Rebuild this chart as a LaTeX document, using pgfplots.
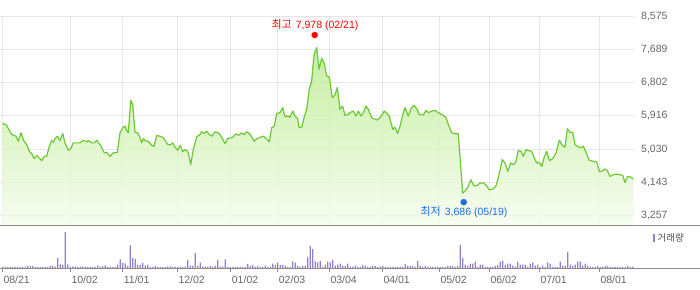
\documentclass[border=0pt]{standalone}
\usepackage{pgfplots}
\pgfplotsset{compat=1.18}
\usepackage{pgfplotstable}
\usepackage{fontspec}
\setmainfont{Liberation Sans}
\newfontfamily\kr{Noto Sans CJK KR}
\definecolor{linegreen}{HTML}{6CC935}
\definecolor{filltop}{HTML}{BDEC93}
\definecolor{fillbot}{HTML}{F5FCEE}
\definecolor{gridc}{HTML}{E6E6E6}
\definecolor{axisc}{HTML}{8C8C8C}
\definecolor{labc}{HTML}{666666}
\definecolor{volc}{HTML}{9580C8}
\definecolor{hired}{HTML}{FF0000}
\definecolor{loblue}{HTML}{1E6FD9}

\pgfplotstableread{
x y
2.3 5707
6.0 5688
11.7 5419
16.0 5374
18.3 5239
21.0 5465
24.0 5239
26.7 5151
29.3 4971
31.7 4909
34.0 4775
36.7 4863
39.3 4793
41.7 4721
44.3 4836
46.7 4836
49.3 5105
51.7 5266
53.3 5212
55.0 5304
57.3 5374
60.0 5258
62.7 5446
65.0 5196
68.3 4998
70.7 5043
73.3 5196
80.0 5196
83.3 5266
86.7 5223
88.3 5258
91.7 5196
94.3 5196
96.7 5266
100.7 5124
104.3 4928
106.7 4944
110.0 4836
113.3 4928
117.3 4944
120.0 5465
122.7 5599
125.0 5642
126.7 5527
128.3 5465
130.7 6332
132.7 6225
135.0 5481
137.7 5465
140.0 5331
141.7 5196
143.3 5312
146.0 5239
148.3 5239
150.0 5177
151.7 5132
154.0 5105
156.7 5392
160.0 5374
163.3 5331
165.7 5239
167.7 5151
170.7 5143
172.7 5196
175.0 5078
177.7 4998
180.3 5132
182.7 4955
185.0 5016
186.7 4990
188.3 4928
190.7 4613
193.3 5016
196.7 5357
200.0 5419
201.7 5492
204.0 5446
206.7 5508
209.3 5419
212.0 5374
215.0 5492
218.3 5465
221.7 5347
225.0 5177
227.7 5312
231.0 5331
233.3 5357
236.0 5438
238.7 5400
241.7 5465
244.3 5419
246.7 5492
249.3 5446
251.7 5357
254.0 5239
256.7 5304
260.0 5347
263.3 5374
266.7 5304
269.3 5223
271.7 5599
274.3 5642
276.7 5983
280.0 6002
282.7 6136
285.0 5895
287.3 5911
290.0 5884
292.7 6045
295.0 5911
297.7 5841
299.0 5615
301.7 5615
304.0 5868
306.7 6091
309.3 6628
311.7 6851
313.3 7345
314.3 7568
316.7 7737
319.0 7165
321.7 7453
324.0 7345
326.7 6985
329.3 6958
332.3 6405
335.0 6475
337.3 6674
340.0 6091
342.7 6179
345.0 5930
348.3 5956
350.0 6002
353.3 6045
356.0 5911
358.3 6045
361.0 5911
363.3 6002
366.0 6179
368.3 6091
371.7 5868
376.7 5803
380.0 5868
384.3 6045
389.3 5911
392.7 5554
395.0 5615
397.7 5446
400.0 5642
403.3 6002
405.0 6136
408.3 5911
411.0 6118
414.0 6198
416.7 6110
419.3 5956
423.3 5938
426.0 6064
428.3 6002
431.7 6045
435.0 6064
438.3 6002
443.3 5930
446.0 5868
448.3 5688
451.7 5465
455.0 5438
458.3 5438
462.7 3853
466.0 3942
468.3 4031
470.7 4211
474.0 4049
476.7 4049
480.0 4122
483.3 4122
486.0 4076
489.3 3942
492.7 3961
495.7 4031
498.3 4256
502.3 4748
505.0 4659
507.7 4434
510.7 4659
513.3 4613
515.7 4675
518.3 4990
521.0 4971
523.3 4836
526.0 5016
528.3 4990
531.7 4971
534.3 4793
536.7 4659
539.3 4675
541.7 4568
544.0 4793
546.7 4971
549.3 4721
552.7 4775
556.0 4928
559.3 5266
561.7 5151
565.0 5078
567.3 5572
570.0 5481
572.7 5481
575.0 5151
578.3 5089
580.7 5062
583.3 5105
586.0 4944
589.3 4729
593.3 4702
596.7 4686
599.3 4434
601.7 4434
605.0 4498
607.3 4460
610.0 4299
613.3 4345
616.7 4364
620.0 4345
622.7 4326
625.0 4138
627.7 4299
630.7 4283
633.3 4229
}\price

\pgfplotstableread{
v
4
4
4
4
4
4
4
4
4
4
7
7
7
4
4
4
4
4
4
7
7
4
31
12
10
109
12
5
6
5
4
5
6
4
4
4
4
4
9
5
6
9
4
4
4
4
11
27
16
15
7
69
31
28
10
10
16
8
11
4
4
7
4
4
4
4
6
6
4
4
4
4
4
4
25
8
8
46
8
17
5
5
4
7
5
7
25
5
5
27
4
4
4
4
4
4
4
4
13
7
10
4
7
4
4
8
4
4
14
10
17
10
10
8
4
4
21
17
7
4
7
7
33
67
58
21
18
23
4
11
20
18
26
8
11
14
8
7
14
4
5
8
4
4
10
8
4
4
7
7
4
5
7
4
4
4
4
4
4
4
4
13
7
7
7
4
22
7
4
7
4
4
4
4
4
4
4
4
7
7
7
4
7
70
31
11
7
14
14
20
4
11
11
4
4
4
4
7
10
20
23
10
14
14
8
5
20
11
11
11
5
14
18
8
11
4
8
4
18
14
4
4
4
20
8
8
49
11
7
11
20
20
8
14
7
4
4
4
7
4
4
7
7
4
4
4
4
4
4
4
7
4
5
}\volume

\begin{document}
\begin{tikzpicture}
\useasboundingbox (0pt,0pt) rectangle (700pt,289pt);
% price panel
\begin{axis}[
  at={(0pt,63.7pt)}, anchor=south west,
  scale only axis, width=634pt, height=209pt,
  xmin=0, xmax=634, ymin=2995, ymax=8575,
  axis line style={draw=none},
  clip=false,
  xtick={2.3,70.3,122.7,177.3,230.7,277.7,329.3,382.3,439.3,489.3,539.3,599.3},
  xticklabels={},
  ytick={3257,4143,5030,5916,6802,7689,8575},
  yticklabels={{3,257},{4,143},{5,030},{5,916},{6,802},{7,689},{8,575}},
  ytick pos=right, yticklabel pos=right,
  major tick length=0pt,
  yticklabel style={anchor=west, inner sep=0pt, xshift=7pt, text=labc, font=\fontsize{10.5}{12}\selectfont},
  xmajorgrids, ymajorgrids,
  grid style={gridc, line width=0.9pt},
]
\addplot[draw=none, fill opacity=0.85, top color=filltop, bottom color=fillbot] table[x=x,y=y] {\price} -- (axis cs:633.3,2995) -- (axis cs:2.3,2995) -- cycle;
\addplot[linegreen, line width=1.2pt, line join=round] table[x=x,y=y] {\price};
\addplot[only marks, mark=*, mark size=3pt, color=hired] coordinates {(314.7,8075)};
\addplot[only marks, mark=*, mark size=3pt, color=loblue] coordinates {(463.7,3613)};
\node[text=hired, font=\fontsize{10.5}{12}\selectfont, inner sep=0pt] at (axis cs:315,8343) {{\kr\fontsize{11}{12}\selectfont 최고}\hspace{4pt}7,978\hspace{3pt}(02/21)};
\node[text=loblue, font=\fontsize{10.5}{12}\selectfont, inner sep=0pt] at (axis cs:464,3338) {{\kr\fontsize{11}{12}\selectfont 최저}\hspace{4pt}3,686\hspace{3pt}(05/19)};
\end{axis}
% volume panel
\begin{axis}[
  at={(0pt,20.7pt)}, anchor=south west,
  scale only axis, width=634pt, height=43pt,
  xmin=0, xmax=634, ymin=0, ymax=129,
  axis line style={draw=none},
  ytick=\empty,
  xtick={2.3,70.3,122.7,177.3,230.7,277.7,329.3,382.3,439.3,489.3,539.3,599.3},
  xticklabels={08/21,10/02,11/01,12/02,01/02,02/03,03/04,04/01,05/02,06/02,07/01,08/01},
  xtick pos=bottom, tick align=outside, major tick length=4pt,
  tick style={axisc, line width=0.9pt},
  xticklabel style={anchor=north west, inner sep=0pt, xshift=1pt, yshift=-3.5pt, text=labc, font=\fontsize{10.5}{12}\selectfont},
]
\addplot[ybar, bar width=1.1pt, draw=none, fill=volc] table[x expr=\coordindex*2.5+2.7, y=v] {\volume};
\end{axis}
\draw[axisc, line width=0.9pt] (0pt,63.7pt) -- (700pt,63.7pt);
\draw[axisc, line width=0.9pt] (0pt,20.7pt) -- (700pt,20.7pt);
\fill[volc] (653.3pt,47.3pt) rectangle (655.3pt,54.7pt);
\node[anchor=west, inner sep=0pt, text=black!70, font=\kr\fontsize{9.5}{11}\selectfont] at (657.5pt,50.7pt) {거래량};
\end{tikzpicture}
\end{document}
